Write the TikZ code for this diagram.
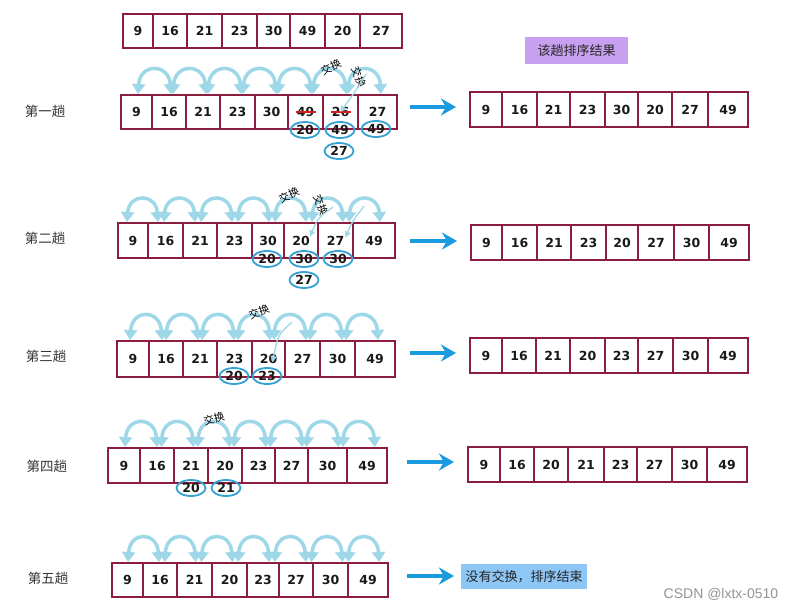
\documentclass[tikz,border=0pt]{standalone}
\usepackage{fontspec}
\setmainfont{DejaVu Sans}
\newfontfamily\cjk{Noto Sans CJK SC}
\newfontfamily\wmfont{Liberation Sans}
\usetikzlibrary{arrows.meta,shapes.geometric,calc}
\definecolor{cellred}{HTML}{8B1E3F}
\definecolor{arcblue}{HTML}{9ED8E8}
\definecolor{ovalblue}{HTML}{35A2D4}
\definecolor{arrowblue}{HTML}{1A9BDF}
\definecolor{boxpurple}{HTML}{C7A1F0}
\definecolor{boxblue}{HTML}{8EC6F5}
\definecolor{strikered}{HTML}{D02020}
\tikzset{
  cell/.style={draw=cellred, line width=1.8pt, fill=white, inner sep=0pt,
    font=\fontsize{12.5}{14}\selectfont\bfseries, text=black!90},
  swaparc/.style={draw=arcblue, line width=3.5pt,
    {Triangle[length=10pt,width=13pt]}-{Triangle[length=10pt,width=13pt]}},
  thinarc/.style={draw=arcblue, line width=1.3pt, -{Triangle[length=6pt,width=6pt]}},
  oval/.style={ellipse, draw=ovalblue, line width=1.8pt, minimum width=29pt,
    minimum height=16pt, inner sep=0pt, font=\fontsize{12.5}{14}\selectfont\bfseries, text=black!90},
  bigarrow/.style={draw=arrowblue, line width=4pt, -{Stealth[length=15pt,width=17pt]}},
  passlabel/.style={font=\cjk\fontsize{13.5}{15}\selectfont, text=black!80},
  swaplabel/.style={font=\cjk\fontsize{10.5}{12}\selectfont, inner sep=0pt, text=black},
  strike/.style={draw=strikered, line width=1.3pt},
  tagbox/.style={inner sep=0pt, text=black!85, font=\cjk\fontsize{13}{15}\selectfont},
}
\newcommand\cellrow[4]{%
  \foreach \a/\b/\v [count=\i] in {#4}
    \node[cell, minimum width={(\b-\a)*1pt}, minimum height={(#3-#2)*1pt}]
      (#1c\i) at ({(\a+\b)/2},{(#2+#3)/2}) {\v};
}
\newcommand\arcrow[5]{%
  \foreach \k in {0,...,6}
    \draw[swaparc] ({#1+\k*#2},#4) .. controls +(2,-#5) and +(-2,-#5) .. ({#1+\k*#2+#3},#4);
}
\begin{document}
\begin{tikzpicture}[x=1pt,y=-1pt]
\useasboundingbox (0,0) rectangle (796,610);
\fill[white] (0,0) rectangle (796,610);

% top array
\cellrow{t}{14}{48}{123/153/9,153/187/16,187/222/21,222/257/23,257/290/30,290/325/49,325/360/20,360/402/27}

% header
\node[tagbox, fill=boxpurple, minimum width=103pt, minimum height=27pt] (hdr) at (576.5,50.5) {该趟排序结果};

% ---------- pass 1
\node[passlabel] (p1) at (45,111) {第一趟};
\arcrow{138}{35}{33}{94}{31}
\cellrow{r1}{95}{129}{121/152/9,152/186/16,186/220/21,220/255/23,255/288/30,288/323/49,323/358/26,358/397/27}
\draw[strike] ($(r1c6.center)+(-10,0)$) -- ($(r1c6.center)+(10,0)$);
\draw[strike] ($(r1c7.center)+(-10,0)$) -- ($(r1c7.center)+(10,0)$);
\node[swaplabel, rotate=25] (x1a) at (331,67) {交换};
\node[swaplabel, rotate=-70] (x1b) at (359,77) {交换};
\coordinate (t1) at (366,74);
\draw[thinarc] (t1) .. controls (357,90) and (351,97) .. (r1c7.center);
\node[oval] (o1a) at (305,130) {20};
\node[oval] (o1b) at (340,130) {49};
\node[oval] (o1c) at (376,129) {49};
\node[oval] (o1d) at (339,151) {27};
\coordinate (a1s) at (410,107); \coordinate (a1e) at (456,107);
\draw[bigarrow] (a1s) -- (a1e);
\cellrow{s1}{92}{127}{470/502/9,502/537/16,537/570/21,570/605/23,605/638/30,638/672/20,672/708/27,708/748/49}

% ---------- pass 2
\node[passlabel] (p2) at (45,238) {第二趟};
\arcrow{127}{37}{31}{222}{29}
\cellrow{r2}{223}{258}{118/148/9,148/183/16,183/217/21,217/252/23,252/284/30,284/318/20,318/353/27,353/395/49}
\node[swaplabel, rotate=25] (x2a) at (289,195) {交换};
\node[swaplabel, rotate=-70] (x2b) at (321,205) {交换};
\coordinate (t2a) at (333,207); \coordinate (t2b) at (364,206);
\draw[thinarc] (t2a) .. controls (318,218) .. ($(r2c6.center)+(9,-4)$);
\draw[thinarc] (t2b) .. controls (352,222) .. ($(r2c7.center)+(10,-3)$);
\node[oval] (o2a) at (267,259) {20};
\node[oval] (o2b) at (304,259) {30};
\node[oval] (o2c) at (338,259) {30};
\node[oval] (o2d) at (304,280) {27};
\coordinate (a2s) at (410,241); \coordinate (a2e) at (457,241);
\draw[bigarrow] (a2s) -- (a2e);
\cellrow{s2}{225}{260}{471/502/9,502/537/16,537/571/21,571/606/23,606/638/20,638/674/27,674/709/30,709/749/49}

% ---------- pass 3
\node[passlabel] (p3) at (46,356) {第三趟};
\arcrow{130}{36}{32}{340}{31}
\cellrow{r3}{341}{377}{117/149/9,149/183/16,183/217/21,217/252/23,252/285/20,285/320/27,320/355/30,355/395/49}
\node[swaplabel, rotate=20] (x3a) at (259,312) {交换};
\coordinate (t3) at (292,322);
\draw[thinarc] (t3) .. controls (278,335) .. ($(r3c5.center)+(4,3)$);
\node[oval] (o3a) at (234,376) {20};
\node[oval] (o3b) at (267,376) {23};
\coordinate (a3s) at (410,353); \coordinate (a3e) at (456,353);
\draw[bigarrow] (a3s) -- (a3e);
\cellrow{s3}{338}{373}{470/502/9,502/536/16,536/570/21,570/605/20,605/638/23,638/673/27,673/708/30,708/748/49}

% ---------- pass 4
\node[passlabel] (p4) at (47,466) {第四趟};
\arcrow{125}{36.3}{32}{447}{31}
\cellrow{r4}{448}{483}{108/140/9,140/174/16,174/208/21,208/242/20,242/275/23,275/308/27,308/347/30,347/387/49}
\node[swaplabel, rotate=15] (x4a) at (214,419) {交换};
\node[oval] (o4a) at (191,488) {20};
\node[oval] (o4b) at (226,488) {21};
\coordinate (a4s) at (407,462); \coordinate (a4e) at (454,462);
\draw[bigarrow] (a4s) -- (a4e);
\cellrow{s4}{447}{482}{468/500/9,500/534/16,534/568/20,568/604/21,604/637/23,637/672/27,672/707/30,707/747/49}

% ---------- pass 5
\node[passlabel] (p5) at (48,578) {第五趟};
\arcrow{128}{36.7}{31}{562}{31}
\cellrow{r5}{563}{597}{112/143/9,143/177/16,177/212/21,212/247/20,247/279/23,279/313/27,313/348/30,348/388/49}
\coordinate (a5s) at (407,576); \coordinate (a5e) at (454,576);
\draw[bigarrow] (a5s) -- (a5e);
\node[tagbox, fill=boxblue, minimum width=126pt, minimum height=25pt] (done) at (524,576.5) {没有交换，排序结束};

% watermark
\node[font=\wmfont\fontsize{14}{16}\selectfont, text=black!42, inner sep=0pt] (wm) at (721,594) {CSDN @lxtx-0510};
\end{tikzpicture}
\end{document}
